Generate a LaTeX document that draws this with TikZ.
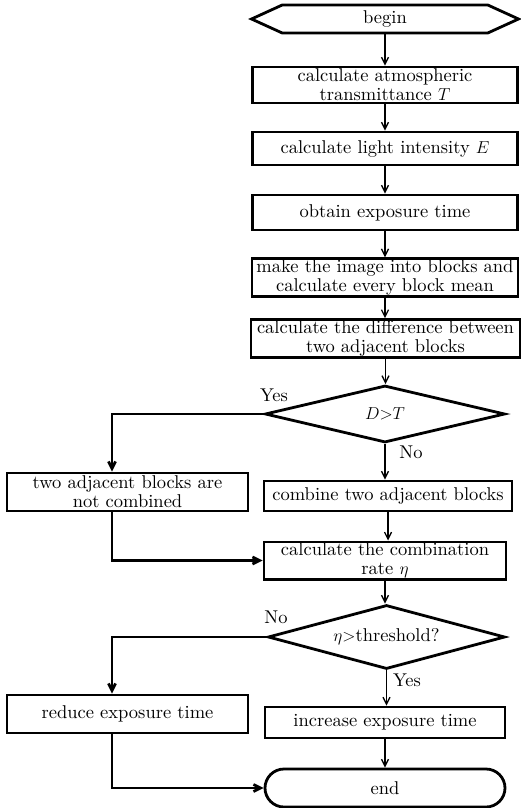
\documentclass[tikz,border=0pt]{standalone}
\usepackage{amsmath}
\usepackage{fontspec}
\setmainfont{lmroman10}[Extension=.otf, UprightFont=*-regular, ItalicFont=*-italic,
                        BoldFont=*-bold, BoldItalicFont=*-bolditalic]
\usetikzlibrary{shapes.geometric, shapes.symbols, shapes.misc, arrows.meta}

\begin{document}
\begin{tikzpicture}[
   x=1pt, y=-1pt,
   font=\fontsize{18.5}{19}\selectfont,
   procbox/.style={rectangle, draw=black, line width=2.8, inner sep=1, align=center},
   decide/.style={diamond, draw=black, line width=2.8, inner sep=0},
   startend/.style={signal, signal to=west and east, signal pointer angle=49,
                    draw=black, line width=2.8, inner sep=0},
   stopend/.style={rounded rectangle, draw=black, line width=2.8, inner sep=0},
   flow/.style={-{Straight Barb[length=7,width=7]}, line width=1.3},
   branch/.style={-{Straight Barb[length=7,width=7]}, line width=2.8},
   ynlabel/.style={inner sep=0}
  ]

  \useasboundingbox (0, 0) rectangle (521, 808);

  % main column
  \node (begin) at (385, 19) [startend, minimum width=267, minimum height=28] {begin};
  \node (atm) at (385, 85) [procbox, minimum width=265, minimum height=36]
        {calculate atmospheric\\transmittance $T$};
  \node (light) at (385, 148.5) [procbox, minimum width=265, minimum height=33]
        {calculate light intensity $E$};
  \node (obtain) at (385, 212.5) [procbox, minimum width=265, minimum height=35]
        {obtain exposure time};
  \node (blocks) at (385, 277.5) [procbox, minimum width=266, minimum height=31]
        {make the image into blocks and\\calculate every block mean};
  \node (diff) at (385.5, 338.5) [procbox, minimum width=269, minimum height=37]
        {calculate the difference between\\two adjacent blocks};
  \node (dt) at (385, 414) [decide, aspect=4.2, minimum width=240, minimum height=57]
        {$D{>}T$};
  \node (comb) at (388, 496) [procbox, minimum width=248, minimum height=30]
        {combine two adjacent blocks};
  \node (rate) at (385, 560.5) [procbox, minimum width=242, minimum height=33]
        {calculate the combination\\rate $\eta$};
  \node (eta) at (386.5, 637) [decide, aspect=3.7, minimum width=237, minimum height=64]
        {$\eta{>}$threshold?};
  \node (incr) at (385, 722.5) [procbox, minimum width=240, minimum height=31]
        {increase exposure time};
  \node (end) at (385, 788) [stopend, minimum width=240, minimum height=38] {end};

  % left column
  \coordinate (lx) at (112, 0);
  \node (notcomb) at (127.5, 492) [procbox, minimum width=241, minimum height=38]
        {two adjacent blocks are\\not combined};
  \node (reduce) at (127.5, 714) [procbox, minimum width=241, minimum height=38]
        {reduce exposure time};

  % labels
  \node (yes1) at (274, 395) [ynlabel] {Yes};
  \node (no1) at (411, 452) [ynlabel] {No};
  \node (no2) at (276, 617) [ynlabel] {No};
  \node (yes2) at (407, 680) [ynlabel] {Yes};

  \foreach \B/\E in {begin/atm, atm/light, light/obtain, obtain/blocks, blocks/diff,
                     diff/dt, dt/comb, comb/rate, rate/eta, eta/incr, incr/end} {
    \draw[flow] (\B.south) -- (\B.south |- \E.north);
  }

  \draw[branch] (dt.west) -| (lx |- notcomb.north);
  \draw[branch] (lx |- notcomb.south) |- (rate.west);
  \draw[branch] (eta.west) -| (lx |- reduce.north);
  \draw[branch] (lx |- reduce.south) |- (end.west);

\end{tikzpicture}
\end{document}
